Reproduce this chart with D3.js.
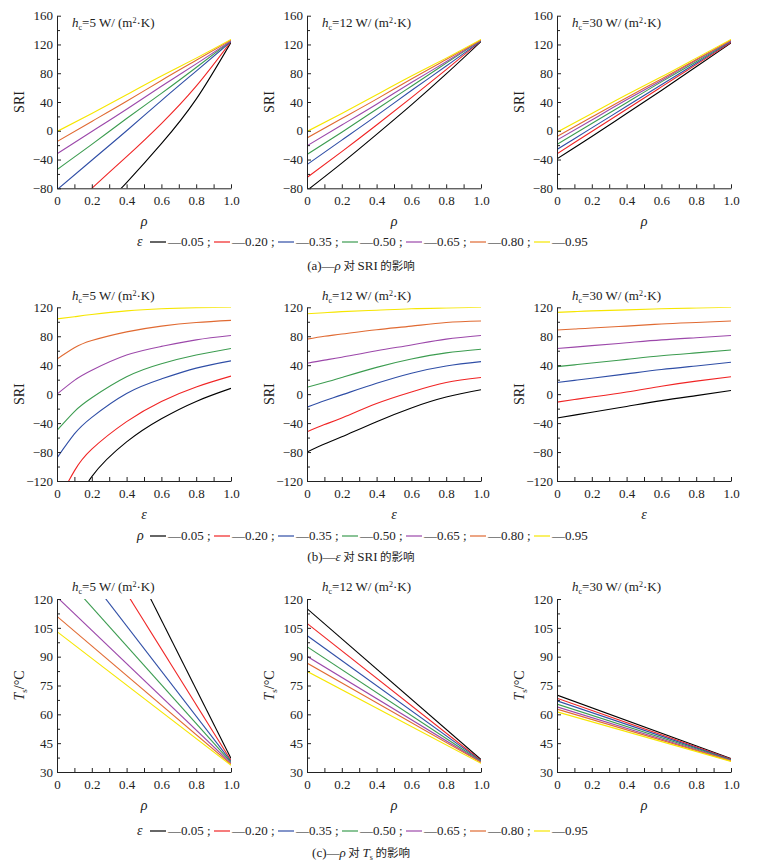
<!DOCTYPE html>
<html lang="zh">
<head>
<meta charset="utf-8">
<title>SRI and Ts panels</title>
<script src="https://d3js.org/d3.v7.min.js"></script>
<style>
  body { margin: 0; background: #fff; }
  svg { display: block; }
  svg text { font-family: "Liberation Serif", "Times New Roman", serif; fill: #222; }
  svg text tspan.cjk { font-family: "Noto Sans CJK SC", sans-serif; }
</style>
</head>
<body>
<div id="chart"></div>
<script>
// ---- data ----
var hcVals = [5, 12, 30];
var paramVals = ["0.05", "0.20", "0.35", "0.50", "0.65", "0.80", "0.95"];
var colors = ["#000000", "#f02424", "#2f4ea6", "#3c9c50", "#9c48aa", "#e06a32", "#f6e600"];

// (a) SRI vs rho, one line per emissivity
var rhoGridA = [0, 0.2, 0.4, 0.6, 0.8, 1.0];
var sriRho5 = [
  [-170, -122, -72, -18, 44, 123],
  [-125, -80, -36, 10, 62, 124],
  [-82, -41, 0, 42, 83, 124],
  [-54, -19, 17, 52, 88, 125],
  [-32, -1, 30, 62, 93, 125],
  [-15, 13, 41, 70, 98, 126],
  [-1, 24, 50, 76, 101, 127]
];
var sriRho12 = [
  [-83, -45, -5, 36, 79, 124],
  [-65, -29, 8, 46, 85, 125],
  [-47, -13, 21, 56, 90, 125],
  [-33, -2, 30, 62, 94, 126],
  [-21, 8, 37, 67, 96, 126],
  [-10, 17, 44, 72, 99, 126],
  [-1, 24, 50, 76, 101, 127]
];
var sriRho30 = [
  [-39, -8, 24, 56, 89, 122],
  [-32, -1, 30, 61, 92, 123],
  [-26, 4, 34, 64, 94, 124],
  [-19, 10, 39, 68, 96, 125],
  [-13, 15, 43, 70, 98, 125],
  [-8, 19, 46, 72, 99, 126],
  [-2, 24, 50, 75, 101, 127]
];

// (b) SRI vs emissivity, one line per rho
var epsGridB = [0, 0.1, 0.2, 0.4, 0.6, 0.8, 1.0];
var sriEps5 = [
  [-250, -168, -114, -66, -34, -10, 8],
  [-150, -106, -76, -38, -10, 10, 25],
  [-88, -55, -32, 1, 21, 36, 46],
  [-50, -24, -5, 24, 42, 54, 63],
  [0, 19, 33, 54, 66, 75, 81],
  [48.5, 64, 74, 86, 94, 99, 102],
  [104, 107, 110, 115, 118, 119.5, 120]
];
var sriEps12 = [
  [-80, -69, -59, -38, -19, -4, 6],
  [-52, -42, -33, -13, 3, 16, 23],
  [-18, -9, -1, 15, 29, 39, 45],
  [9.5, 16, 23, 37, 48.5, 57, 62],
  [42.6, 47, 51, 60, 68, 76, 81],
  [76, 80, 83, 89, 94, 99, 101],
  [111, 112.5, 114, 116, 118, 119, 120]
];
var sriEps30 = [
  [-33, -29, -25, -17, -9, -2, 5],
  [-11, -7.5, -4, 3, 11, 18, 24],
  [16, 19, 22, 28, 34, 39, 44],
  [38, 40.5, 43, 48, 53, 57, 61],
  [63, 65, 67, 71, 75, 78, 81],
  [88.6, 90, 91.5, 94, 97, 99, 101],
  [113, 114, 115, 116.5, 118, 119, 120]
];

// (c) surface temperature vs rho (straight lines), one line per emissivity
var rhoGridC = [0, 1.0];
var tsRho5 = [[217, 37], [181, 36], [153, 35.5], [136, 35], [121, 34.5], [111, 34], [103, 33.5]];
var tsRho12 = [[115, 36.5], [107.3, 36], [101, 35.8], [95.2, 35.5], [90.2, 35.2], [86.7, 35], [82.4, 34.5]];
var tsRho30 = [[70, 37], [68.4, 36.7], [67, 36.4], [65.3, 36.2], [63.9, 36], [62.7, 35.8], [61.3, 35.5]];

var xTicks = [0, 0.2, 0.4, 0.6, 0.8, 1.0];
var xMinor = [0.1, 0.3, 0.5, 0.7, 0.9];
var sriTicksA = [-80, -40, 0, 40, 80, 120, 160];
var sriTicksB = [-120, -80, -40, 0, 40, 80, 120];
var tsTicks = [30, 45, 60, 75, 90, 105, 120];

// ---- layout ----
var W = 764, H = 864;
var panelX = [57, 307, 557], panelW = 174;
var serif = "'Liberation Serif', 'Times New Roman', serif";
var rows = [
  { top: 15.7, bottom: 188.3, grid: rhoGridA, sets: [sriRho5, sriRho12, sriRho30],
    yDom: [-80, 160], yTicks: sriTicksA, yStep: 20, xName: "ρ", yName: "SRI",
    hcY: 27, legendY: 246, capY: 270, legendSym: "ε", cap: "a" },
  { top: 307.3, bottom: 481, grid: epsGridB, sets: [sriEps5, sriEps12, sriEps30],
    yDom: [-120, 120], yTicks: sriTicksB, yStep: 20, xName: "ε", yName: "SRI",
    hcY: 300, legendY: 540, capY: 561, legendSym: "ρ", cap: "b" },
  { top: 599, bottom: 772, grid: rhoGridC, sets: [tsRho5, tsRho12, tsRho30],
    yDom: [30, 120], yTicks: tsTicks, yStep: 7.5, xName: "ρ", yName: "Ts",
    hcY: 591, legendY: 835, capY: 857, legendSym: "ε", cap: "c" }
];

var svg = d3.select("#chart").append("svg").attr("width", W).attr("height", H);
var defs = svg.append("defs");

rows.forEach(function(row, r) {
  var y = d3.scaleLinear().domain(row.yDom).range([row.bottom, row.top]);
  var yMinor = d3.range(row.yDom[0], row.yDom[1] + 0.01, row.yStep)
    .filter(function(v) { return row.yTicks.indexOf(v) < 0; });

  panelX.forEach(function(px, p) {
    var x = d3.scaleLinear().domain([0, 1]).range([px, px + panelW]);
    var g = svg.append("g");
    var clipId = "clip" + r + "_" + p;
    defs.append("clipPath").attr("id", clipId).append("rect")
      .attr("x", px).attr("y", row.top).attr("width", panelW).attr("height", row.bottom - row.top);

    // lines
    var line = d3.line()
      .x(function(d, i) { return x(row.grid[i]); })
      .y(function(d) { return y(d); })
      .curve(d3.curveNatural);
    g.append("g").attr("clip-path", "url(#" + clipId + ")")
      .selectAll("path").data(row.sets[p]).enter().append("path")
      .attr("d", line)
      .attr("fill", "none")
      .attr("stroke", function(d, i) { return colors[i]; })
      .attr("stroke-width", 1.1);

    // axes, ticks pointing inward
    var xa = g.append("g").attr("transform", "translate(0," + row.bottom + ")")
      .call(d3.axisBottom(x).tickValues(xTicks).tickSizeInner(-4).tickSizeOuter(0).tickPadding(6)
        .tickFormat(function(d) { return d === 0 ? "0" : d3.format(".1f")(d); }));
    g.append("g").attr("transform", "translate(0," + row.bottom + ")")
      .call(d3.axisBottom(x).tickValues(xMinor).tickSizeInner(-4).tickSizeOuter(0).tickFormat(""))
      .select(".domain").remove();
    var ya = g.append("g").attr("transform", "translate(" + px + ",0)")
      .call(d3.axisLeft(y).tickValues(row.yTicks).tickSizeInner(-4).tickSizeOuter(0).tickPadding(4)
        .tickFormat(function(d) { return d < 0 ? "\u2212" + Math.abs(d) : d; }));
    g.append("g").attr("transform", "translate(" + px + ",0)")
      .call(d3.axisLeft(y).tickValues(yMinor).tickSizeInner(-3).tickSizeOuter(0).tickFormat(""))
      .select(".domain").remove();
    g.selectAll("g").attr("font-family", null).attr("font-size", 13);
    g.selectAll(".tick text").style("font-family", serif);
    g.selectAll(".domain, .tick line").attr("stroke", "#222");
    xa.selectAll("text").attr("dy", "0.85em");

    // axis titles
    g.append("text").attr("x", px + panelW / 2).attr("y", row.bottom + 38)
      .attr("text-anchor", "middle").attr("font-style", "italic").attr("font-size", 14)
      .text(row.xName);
    var yl = g.append("text").attr("transform", "translate(" + (px - 33) + "," + ((row.top + row.bottom) / 2) + ") rotate(-90)")
      .attr("text-anchor", "middle").attr("font-size", 14);
    if (row.yName === "SRI") {
      yl.text("SRI");
    } else {
      yl.append("tspan").attr("font-style", "italic").text("T");
      yl.append("tspan").attr("font-size", 9).attr("dy", 3).text("s");
      yl.append("tspan").attr("dy", -3).text("/\u00b0C");
    }

    // convective coefficient label
    var hl = g.append("text").attr("x", px + 15).attr("y", row.hcY).attr("font-size", 13);
    hl.append("tspan").attr("font-style", "italic").text("h");
    hl.append("tspan").attr("font-size", 8).attr("dy", 3).text("c");
    hl.append("tspan").attr("dy", -3).text("=" + hcVals[p] + " W/ (m");
    hl.append("tspan").attr("font-size", 8).attr("dy", -4).text("2");
    hl.append("tspan").attr("dy", 4).text("\u00b7K)");
  });

  // legend
  var lg = svg.append("g");
  lg.append("text").attr("x", 137).attr("y", row.legendY).attr("font-style", "italic")
    .attr("font-size", 14).text(row.legendSym);
  var items = lg.selectAll(".item").data(paramVals).enter().append("g")
    .attr("transform", function(d, i) { return "translate(" + (150 + i * 64) + "," + row.legendY + ")"; });
  items.append("line").attr("x1", 0).attr("x2", 16).attr("y1", -4).attr("y2", -4)
    .attr("stroke", function(d, i) { return colors[i]; }).attr("stroke-width", 1.2);
  items.append("text").attr("x", 18).attr("font-size", 13)
    .text(function(d, i) { return "\u2014" + d + (i < paramVals.length - 1 ? " ;" : ""); });

  // caption
  var cap = svg.append("text").attr("x", 361).attr("y", row.capY).attr("text-anchor", "middle")
    .attr("font-size", 13);
  cap.append("tspan").text("(" + row.cap + ")\u2014");
  cap.append("tspan").attr("font-style", "italic").text(row.cap === "b" ? "ε" : "ρ");
  cap.append("tspan").attr("class", "cjk").attr("font-size", 11.5).text(" 对 ");
  if (row.cap === "c") {
    cap.append("tspan").attr("font-style", "italic").text("T");
    cap.append("tspan").attr("font-size", 8).attr("dy", 3).text("s");
    cap.append("tspan").attr("dy", -3).attr("class", "cjk").attr("font-size", 11.5).text(" 的影响");
  } else {
    cap.append("tspan").text("SRI");
    cap.append("tspan").attr("class", "cjk").attr("font-size", 11.5).text(" 的影响");
  }
});
</script>
</body>
</html>
